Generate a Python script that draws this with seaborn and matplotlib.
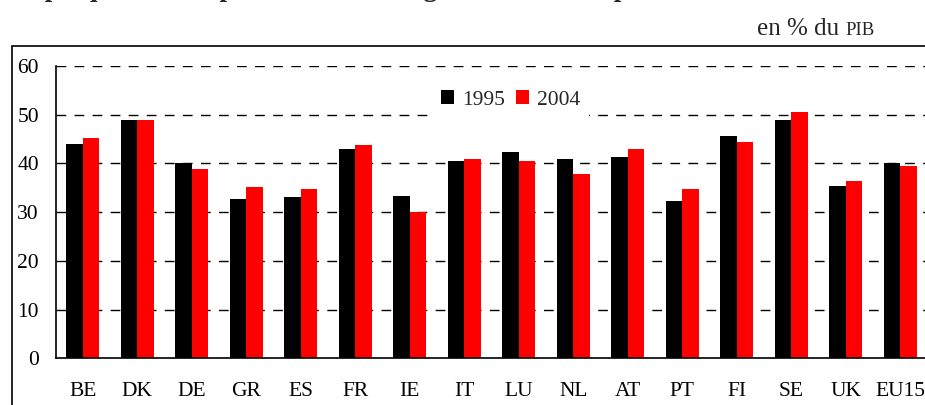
import matplotlib
matplotlib.use("Agg")
import matplotlib.pyplot as plt
import seaborn as sns
import pandas as pd
from matplotlib.patches import Rectangle, Patch

countries = ["BE", "DK", "DE", "GR", "ES", "FR", "IE", "IT", "LU", "NL",
             "AT", "PT", "FI", "SE", "UK", "EU15"]
values_1995 = [44.0, 49.0, 40.0, 32.6, 33.1, 42.9, 33.4, 40.4, 42.4, 40.9,
               41.3, 32.2, 45.7, 49.0, 35.4, 40.0]
values_2004 = [45.3, 49.0, 38.8, 35.1, 34.7, 43.7, 30.1, 40.9, 40.4, 37.9,
               42.9, 34.7, 44.5, 50.6, 36.3, 39.5]
years = ["1995", "2004"]
colors = ["#000000", "#FF0000"]
y_ticks = [0, 10, 20, 30, 40, 50, 60]

df = pd.DataFrame({
    "pays": countries * 2,
    "annee": [years[0]] * len(countries) + [years[1]] * len(countries),
    "valeur": values_1995 + values_2004,
})

sns.set_theme(style="white")
plt.rcParams["font.family"] = ["Liberation Serif", "DejaVu Serif"]

W, H = 925, 405
fig = plt.figure(figsize=(W / 100, H / 100), dpi=100)
ax = fig.add_axes([55.5 / W, (H - 358.3) / H, 872 / W, (358.3 - 66) / H])

sns.barplot(data=df, x="pays", y="valeur", hue="annee", order=countries,
            hue_order=years, palette=colors, width=0.6, saturation=1,
            linewidth=0, ax=ax, legend=False)

ax.set_ylim(0, 60)
ax.set_xlim(-0.5, len(countries) - 0.5)
ax.set_yticks(y_ticks)
ax.set_yticklabels([str(t) for t in y_ticks])
ax.set_xlabel("")
ax.set_ylabel("")
for t in y_ticks[1:]:
    ax.axhline(t, color="black", lw=1.0, linestyle=(0, (7, 6)), zorder=0)
ax.set_axisbelow(True)
for s in ["top", "right"]:
    ax.spines[s].set_visible(False)
for s in ["left", "bottom"]:
    ax.spines[s].set_color("black")
    ax.spines[s].set_linewidth(1.2)
ax.tick_params(axis="y", length=0, pad=12, labelsize=15.5, colors="black")
ax.tick_params(axis="x", length=0, pad=17, labelsize=15.5, colors="black")

handles = [Patch(facecolor=c, edgecolor="none") for c in colors]
leg = ax.legend(handles, years, ncol=2, loc="center",
                bbox_to_anchor=(0.522, 0.884), frameon=True, fontsize=15.5,
                handlelength=0.6, handleheight=0.6, handletextpad=0.4,
                columnspacing=0.5, borderpad=0.4, fancybox=False)
leg.get_frame().set_facecolor("white")
leg.get_frame().set_edgecolor("none")
leg.get_frame().set_alpha(1)

# outer frame
fig.patches.append(Rectangle((12 / W, -0.1), 1.2, 1.1 - 46 / H,
                             transform=fig.transFigure, fill=False,
                             edgecolor="black", lw=1.2, clip_on=False))

t1 = fig.text(757 / W, 1 - 35 / H, "en % du", fontsize=18, ha="left",
              va="baseline")
fig.canvas.draw()
bb = t1.get_window_extent()
fig.text((bb.x1 + 6) / W, 1 - 35 / H, "PIB", fontsize=13.5, ha="left",
         va="baseline")

fig.text(-2 / W, 1 + 4 / H,
         "Graphique 1 – Les prélèvements obligatoires en Europe",
         fontsize=19.5, ha="left", va="baseline", weight="bold")

fig.savefig("out.png", dpi=100)
